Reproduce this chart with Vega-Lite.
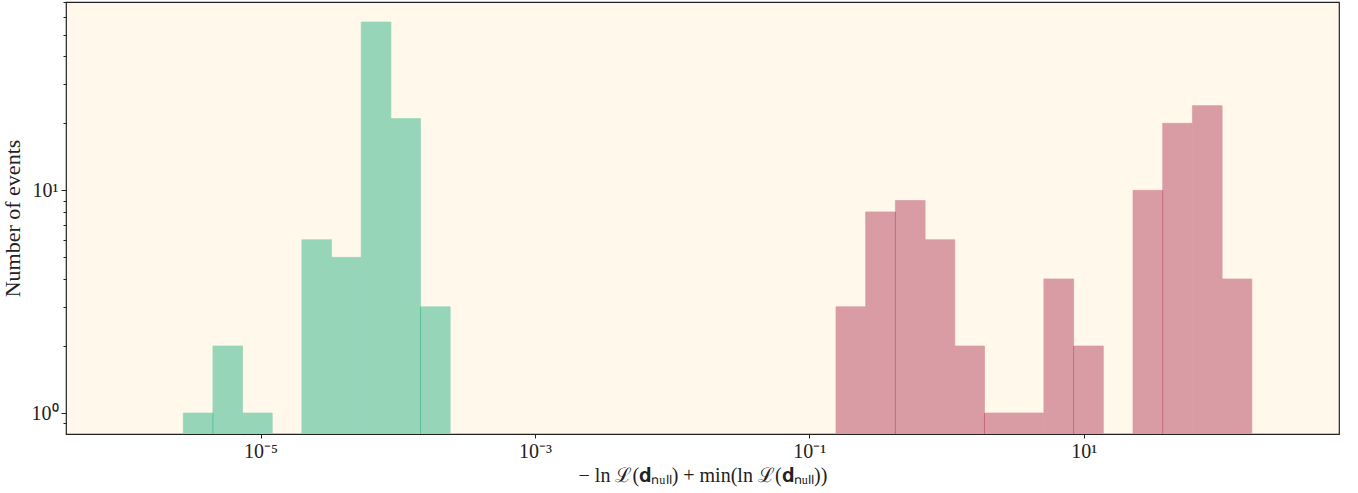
{
  "$schema": "https://vega.github.io/schema/vega-lite/v6.json",
  "autosize": {"type": "none"},
  "width": 1273,
  "height": 432,
  "padding": {"left": 66, "top": 2, "right": 19, "bottom": 59},
  "background": "#ffffff",
  "config": {
    "view": {"fill": "#fff8eb", "stroke": "#222222", "strokeWidth": 1.2},
    "axis": {
      "labelFont": "Liberation Serif",
      "titleFont": "Liberation Serif",
      "labelFontSize": 20,
      "titleFontSize": 20,
      "labelColor": "#222222",
      "titleColor": "#222222",
      "titleFontWeight": "normal",
      "tickColor": "#222222",
      "domain": false,
      "grid": false
    }
  },
  "datasets": {
    "bins": [
      {"group": "low", "x0": 2.734e-6, "x1": 4.498e-6, "count": 1},
      {"group": "low", "x0": 4.498e-6, "x1": 7.399e-6, "count": 2},
      {"group": "low", "x0": 7.399e-6, "x1": 1.217e-5, "count": 1},
      {"group": "low", "x0": 2.002e-5, "x1": 3.294e-5, "count": 6},
      {"group": "low", "x0": 3.294e-5, "x1": 5.420e-5, "count": 5},
      {"group": "low", "x0": 5.420e-5, "x1": 8.916e-5, "count": 57},
      {"group": "low", "x0": 8.916e-5, "x1": 1.4667e-4, "count": 21},
      {"group": "low", "x0": 1.4667e-4, "x1": 2.413e-4, "count": 3},
      {"group": "high", "x0": 0.15649, "x1": 0.25763, "count": 3},
      {"group": "high", "x0": 0.25763, "x1": 0.42414, "count": 8},
      {"group": "high", "x0": 0.42414, "x1": 0.69823, "count": 9},
      {"group": "high", "x0": 0.69823, "x1": 1.1496, "count": 6},
      {"group": "high", "x0": 1.1496, "x1": 1.8923, "count": 2},
      {"group": "high", "x0": 1.8923, "x1": 3.1152, "count": 1},
      {"group": "high", "x0": 3.1152, "x1": 5.1286, "count": 1},
      {"group": "high", "x0": 5.1286, "x1": 8.4432, "count": 4},
      {"group": "high", "x0": 8.4432, "x1": 13.9, "count": 2},
      {"group": "high", "x0": 22.884, "x1": 37.67, "count": 10},
      {"group": "high", "x0": 37.67, "x1": 62.01, "count": 20},
      {"group": "high", "x0": 62.01, "x1": 102.1, "count": 24},
      {"group": "high", "x0": 102.1, "x1": 168.1, "count": 4}
    ],
    "edges": [
      {"group": "low", "x": 4.498e-6, "top": 1},
      {"group": "low", "x": 1.4667e-4, "top": 3},
      {"group": "high", "x": 0.42414, "top": 8},
      {"group": "high", "x": 1.8923, "top": 1},
      {"group": "high", "x": 8.4432, "top": 2},
      {"group": "high", "x": 37.67, "top": 10}
    ]
  },
  "layer": [
    {
      "data": {"name": "bins"},
      "mark": {"type": "bar", "clip": true, "strokeWidth": 0.7},
      "encoding": {
        "x": {
          "field": "x0", "type": "quantitative",
          "scale": {"type": "log", "domain": [3.82e-7, 726], "nice": false},
          "axis": {
            "title": "− ln ℒ(𝐝ₙᵤₗₗ) + min(ln ℒ(𝐝ₙᵤₗₗ))",
            "values": [0.00001, 0.001, 0.1, 10],
            "labelExpr": "datum.value < 0.0001 ? '10⁻⁵' : datum.value < 0.01 ? '10⁻³' : datum.value < 1 ? '10⁻¹' : '10¹'",
            "tickSize": 4,
            "labelPadding": 3,
            "titlePadding": 4,
            "labelOverlap": false
          }
        },
        "x2": {"field": "x1"},
        "y": {
          "field": "count", "type": "quantitative",
          "scale": {"type": "log", "domain": [0.805, 70.1], "nice": false, "zero": false},
          "axis": {
            "title": "Number of events",
            "titleFontSize": 22,
            "values": [0.9, 1, 2, 3, 4, 5, 6, 7, 8, 9, 10, 20, 30, 40, 50, 60, 70],
            "labelExpr": "datum.value == 1 ? '10⁰' : datum.value == 10 ? '10¹' : ''",
            "tickSize": {"condition": {"test": "datum.value == 1 || datum.value == 10", "value": 5}, "value": 3},
            "labelPadding": 3,
            "titlePadding": 7,
            "labelOverlap": false
          }
        },
        "y2": {"datum": 0.805},
        "color": {
          "field": "group", "type": "nominal",
          "scale": {"domain": ["low", "high"], "range": ["#97d5b9", "#d99ca4"]},
          "legend": null
        },
        "stroke": {
          "field": "group", "type": "nominal",
          "scale": {"domain": ["low", "high"], "range": ["#97d5b9", "#d99ca4"]},
          "legend": null
        }
      }
    },
    {
      "data": {"name": "edges"},
      "mark": {"type": "rule", "strokeWidth": 1, "clip": true},
      "encoding": {
        "x": {"field": "x", "type": "quantitative"},
        "y": {"field": "top", "type": "quantitative"},
        "y2": {"datum": 0.805},
        "color": {
          "field": "group", "type": "nominal",
          "scale": {"domain": ["low", "high"], "range": ["#5dbf98", "#c96a7b"]},
          "legend": null
        }
      }
    }
  ],
  "resolve": {"scale": {"color": "independent", "stroke": "independent"}}
}
